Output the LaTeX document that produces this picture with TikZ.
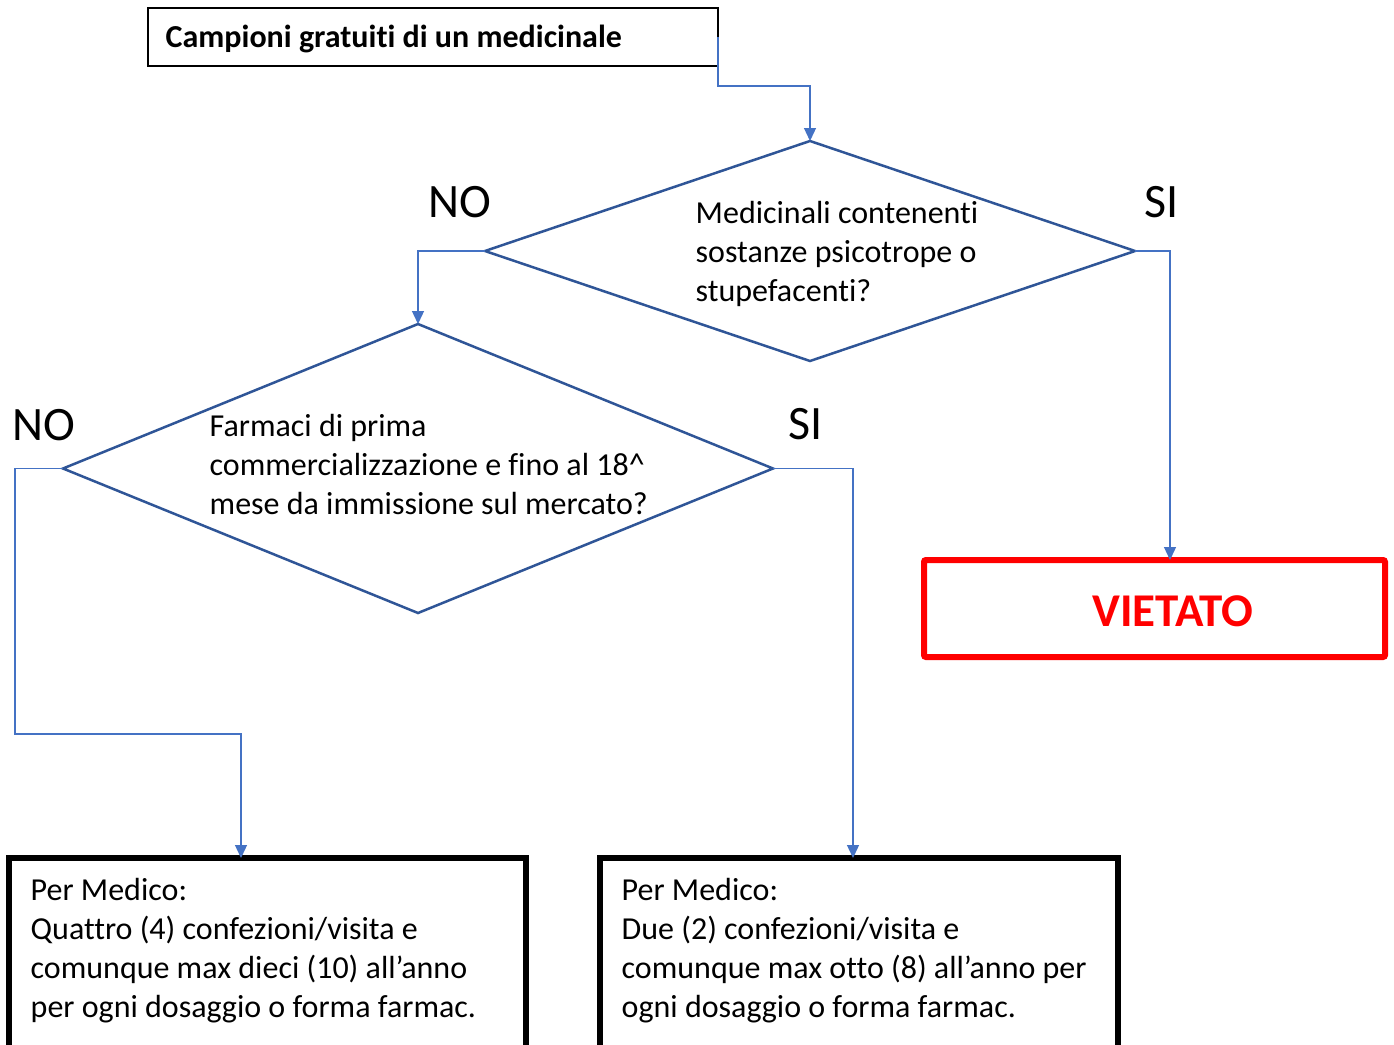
\documentclass[tikz,border=0pt]{standalone}
\usepackage{fontspec}
\setmainfont{Carlito}[Ligatures=NoCommon]
\usetikzlibrary{arrows.meta,shapes.geometric}
\definecolor{connblue}{HTML}{4472C4}
\definecolor{diablue}{HTML}{2F5597}
\definecolor{vred}{HTML}{FF0000}
\tikzset{
  conn/.style={draw=connblue, line width=1.3pt, -{Triangle[length=13pt,width=12pt]}},
  dia/.style={diamond, draw=diablue, line width=2.5pt, inner sep=0pt, outer sep=0pt},
  txt/.style={anchor=base west, inner sep=0pt, font=\fontsize{32}{39}\selectfont},
  lbl/.style={inner sep=0pt, font=\fontsize{48}{54}\selectfont},
  resbox/.style={draw=black, line width=6pt, anchor=north west, inner sep=0pt, outer sep=0pt}
}
\begin{document}
\begin{tikzpicture}[x=1pt,y=-1pt]
\useasboundingbox (0,0) rectangle (1394,1044);
\clip (0,0) rectangle (1394,1044);
\fill[white] (0,0) rectangle (1394,1044);

% top box
\node[draw=black, line width=1.8pt, anchor=north west, minimum width=570pt, minimum height=58pt,
      inner sep=0pt, outer sep=0pt] (top) at (148,8) {};
\node[anchor=base west, inner sep=0pt, font=\fontsize{32}{38}\selectfont\bfseries] (tt) at (165.5,47) {Campioni gratuiti di un medicinale};

% diamonds
\node[dia, minimum width=650pt, minimum height=220pt] (d1) at (810,251) {};
\node[dia, minimum width=710pt, minimum height=289pt] (d2) at (418,468.5) {};

\node[txt] (t1) at (695.5,223) {\parbox[t]{400pt}{Medicinali contenenti\\sostanze psicotrope o\\stupefacenti?}};
\node[txt] (t2) at (209.5,436) {\parbox[t]{500pt}{Farmaci di prima\\commercializzazione e fino al 18\textasciicircum\\mese da immissione sul mercato?}};

% labels
\node[lbl] (no1) at (460,202) {NO};
\node[lbl] (si1) at (1161.5,202) {SI};
\node[lbl] (no2) at (44,425) {NO};
\node[lbl] (si2) at (805.5,424) {SI};

% result boxes
\node[draw=vred, line width=6pt, rounded corners=2pt, anchor=north west, minimum width=461pt,
      minimum height=97pt, inner sep=0pt, outer sep=0pt] (viet) at (924,560) {};
\node[inner sep=0pt, text=vred, font=\fontsize{47}{52}\selectfont\bfseries] (vt) at (1173,611) {VIETATO};
\node[resbox, minimum width=517pt, minimum height=200pt] (b1) at (9,858) {};
\node[resbox, minimum width=518pt, minimum height=200pt] (b2) at (600,858) {};

\node[txt] (bt1) at (30.5,900) {\parbox[t]{500pt}{Per Medico:\\Quattro (4) confezioni/visita e\\comunque max dieci (10) all’anno\\per ogni dosaggio o forma farmac.}};
\node[txt] (bt2) at (621.5,900) {\parbox[t]{500pt}{Per Medico:\\Due (2) confezioni/visita e\\comunque max otto (8) all’anno per\\ogni dosaggio o forma farmac.}};

% connectors
\coordinate (j1) at (810,86);
\draw[conn] (top.east) |- (j1) -- (d1.north);
\draw[conn] (d1.west) -| (d2.north);
\draw[conn] (d1.east) -| ([xshift=15.5pt]viet.north);
\coordinate (j2) at (15,734);
\draw[conn] (d2.west) -| (j2) -| ([xshift=-26.5pt]b1.north);
\draw[conn] (d2.east) -| ([xshift=-6pt]b2.north);
\end{tikzpicture}
\end{document}
